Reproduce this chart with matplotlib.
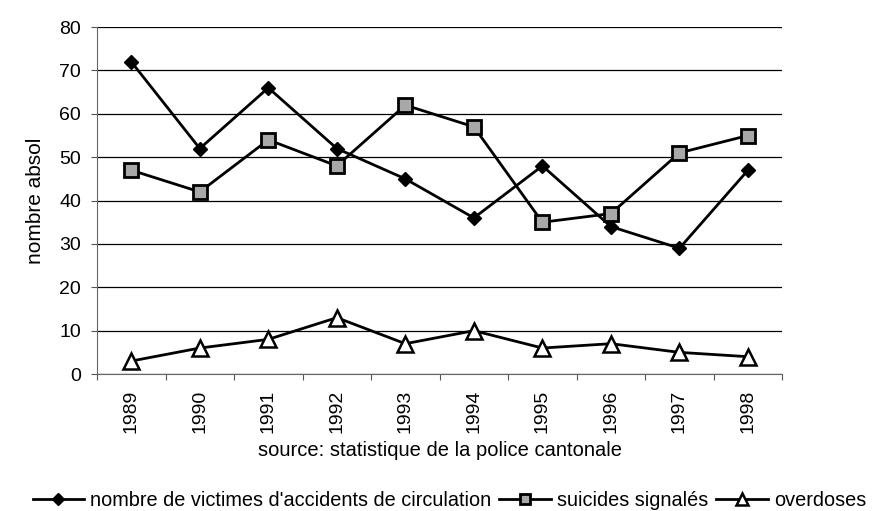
import matplotlib
matplotlib.use("Agg")
import matplotlib.pyplot as plt
import numpy as np

years = ["1989", "1990", "1991", "1992", "1993", "1994", "1995", "1996", "1997", "1998"]
accidents = [72, 52, 66, 52, 45, 36, 48, 34, 29, 47]
suicides = [47, 42, 54, 48, 62, 57, 35, 37, 51, 55]
overdoses = [3, 6, 8, 13, 7, 10, 6, 7, 5, 4]

plt.rcParams['font.family'] = ['Liberation Sans', 'DejaVu Sans']
fig = plt.figure(figsize=(8.74, 5.11), dpi=100)
ax = fig.add_axes([0.111, 0.268, 0.784, 0.679])

x = np.arange(len(years))
ax.plot(x, accidents, color='black', lw=2, marker='D', ms=7.5, mfc='black', mec='black',
        label="nombre de victimes d'accidents de circulation", zorder=3)
ax.plot(x, suicides, color='black', lw=2, marker='s', ms=10, mfc='#a8a8a8', mec='black', mew=2,
        label="suicides signalés", zorder=3)
ax.plot(x, overdoses, color='black', lw=2, marker='^', ms=11, mfc='white', mec='black', mew=1.8,
        label="overdoses", zorder=3)

ax.set_ylim(0, 80)
ax.set_yticks(range(0, 81, 10))
ax.set_xlim(-0.5, len(years) - 0.5)
ax.set_xticks(np.arange(-0.5, len(years), 1.0))
ax.set_xticklabels([])
ax.set_xticks(x, minor=True)
ax.set_xticklabels(years, minor=True, rotation=90)
ax.tick_params(axis='x', which='minor', length=0, pad=11, labelsize=14)
ax.tick_params(axis='x', which='major', length=4.5, direction='out', color='#555555')
ax.tick_params(axis='y', length=4.5, direction='out', color='#555555', labelsize=14, pad=7)

ax.grid(axis='y', color='black', lw=0.9)
ax.set_axisbelow(True)
for s in ['top', 'right']:
    ax.spines[s].set_visible(False)
for s in ['left', 'bottom']:
    ax.spines[s].set_color('#666666')

ax.set_ylabel('nombre absol', fontsize=15, labelpad=10)
ax.set_xlabel('source: statistique de la police cantonale', fontsize=14.5, labelpad=6)

fig.legend(loc='center', bbox_to_anchor=(0.514, 0.021), ncol=3, frameon=False,
           fontsize=14.3, handlelength=2.6, columnspacing=0.4, handletextpad=0.3,
           borderpad=0, markerscale=0.75)

fig.savefig('out.png', dpi=100)
